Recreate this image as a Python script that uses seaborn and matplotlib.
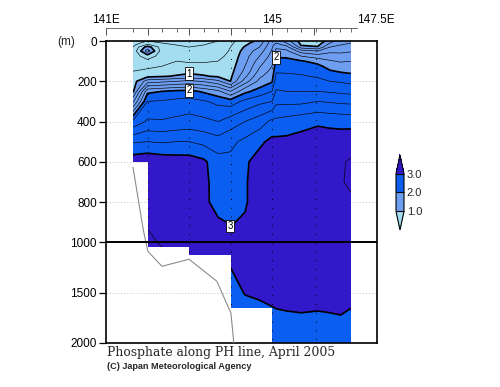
import numpy as np
import matplotlib
matplotlib.use("Agg")
import matplotlib.pyplot as plt
from matplotlib.patches import Polygon
import seaborn as sns

# ---------------- data ----------------
stations = [141.65, 142.0, 142.35, 142.7, 143.0, 143.35, 143.7, 144.0, 144.35,
            144.7, 145.0, 145.1, 145.35, 145.7, 146.1, 146.4, 146.65, 146.9]
depths = [0, 10, 20, 30, 50, 75, 100, 125, 150, 175, 200, 250, 300, 400, 500,
          600, 700, 800, 900, 1000, 1100, 1250, 1500, 1750, 2000]
# phosphate (umol/kg); one row per station, values at `depths`
phosphate = [
    [0.50, 0.50, 0.55, 0.60, 0.65, 0.70, 0.72, 0.75, 0.80, 0.85, 0.90, 0.96, 1.35, 2.25, 2.78, 3.12, 3.10, 3.10, 3.10, 3.10, 3.10, 3.10, 3.05, 3.00, 2.95],
    [0.60, 0.70, 0.85, 1.10, 1.30, 0.90, 0.75, 0.75, 0.85, 0.95, 1.30, 1.95, 2.20, 2.43, 2.80, 3.15, 3.14, 3.15, 3.18, 3.24, 3.26, 3.20, 3.10, 3.00, 2.95],
    [0.55, 0.60, 0.65, 0.70, 0.70, 0.72, 0.75, 0.80, 0.88, 0.98, 1.35, 2.00, 2.22, 2.42, 2.78, 3.12, 3.14, 3.16, 3.17, 3.18, 3.22, 3.15, 3.10, 3.00, 2.95],
    [0.50, 0.55, 0.60, 0.65, 0.70, 0.75, 0.80, 0.85, 0.92, 1.02, 1.40, 2.05, 2.25, 2.45, 2.80, 3.10, 3.12, 3.13, 3.14, 3.15, 3.15, 3.10, 3.05, 3.00, 2.95],
    [0.50, 0.52, 0.55, 0.60, 0.65, 0.72, 0.78, 0.85, 0.93, 1.08, 1.45, 2.06, 2.27, 2.48, 2.80, 3.10, 3.10, 3.12, 3.12, 3.13, 3.12, 3.10, 3.05, 3.00, 2.95],
    [0.55, 0.58, 0.60, 0.62, 0.66, 0.72, 0.78, 0.85, 0.93, 1.02, 1.38, 1.97, 2.22, 2.45, 2.75, 3.04, 3.06, 3.04, 3.08, 3.10, 3.10, 3.08, 3.05, 3.00, 2.95],
    [0.60, 0.62, 0.64, 0.66, 0.70, 0.75, 0.80, 0.85, 0.90, 0.97, 1.25, 1.85, 2.15, 2.40, 2.68, 2.88, 2.90, 2.94, 3.02, 3.06, 3.08, 3.05, 3.00, 2.95, 2.90],
    [0.75, 0.76, 0.78, 0.80, 0.82, 0.85, 0.88, 0.90, 0.93, 0.96, 1.00, 1.60, 2.10, 2.50, 2.75, 2.85, 2.90, 2.94, 2.99, 3.04, 3.05, 3.00, 2.92, 2.85, 2.80],
    [0.90, 0.95, 0.98, 1.02, 1.08, 1.12, 1.15, 1.20, 1.25, 1.35, 1.50, 1.95, 2.25, 2.60, 2.85, 2.97, 2.98, 2.98, 3.02, 3.06, 3.07, 3.06, 3.01, 2.90, 2.85],
    [1.05, 1.10, 1.15, 1.20, 1.30, 1.40, 1.50, 1.58, 1.66, 1.76, 1.86, 2.08, 2.35, 2.70, 2.96, 3.08, 3.10, 3.10, 3.10, 3.10, 3.10, 3.08, 3.03, 2.93, 2.88],
    [1.50, 1.52, 1.55, 1.58, 1.62, 1.68, 1.74, 1.80, 1.86, 1.92, 1.98, 2.20, 2.40, 2.85, 3.05, 3.08, 3.12, 3.12, 3.12, 3.12, 3.12, 3.10, 3.06, 2.95, 2.90],
    [1.55, 1.60, 1.68, 1.75, 1.88, 1.98, 2.06, 2.12, 2.18, 2.24, 2.30, 2.42, 2.55, 2.85, 3.05, 3.10, 3.12, 3.12, 3.12, 3.12, 3.12, 3.10, 3.07, 2.96, 2.91],
    [1.30, 1.40, 1.55, 1.68, 1.85, 1.97, 2.05, 2.12, 2.18, 2.23, 2.28, 2.40, 2.55, 2.88, 3.05, 3.12, 3.14, 3.14, 3.13, 3.12, 3.12, 3.11, 3.08, 2.97, 2.92],
    [0.90, 0.95, 0.98, 1.10, 1.50, 1.80, 2.02, 2.10, 2.16, 2.22, 2.28, 2.40, 2.55, 2.93, 3.07, 3.12, 3.14, 3.15, 3.14, 3.13, 3.12, 3.12, 3.08, 2.98, 2.93],
    [0.85, 0.90, 0.95, 1.02, 1.40, 1.70, 1.93, 2.05, 2.12, 2.18, 2.25, 2.40, 2.60, 2.97, 3.10, 3.14, 3.15, 3.15, 3.14, 3.14, 3.13, 3.12, 3.08, 2.97, 2.92],
    [1.10, 1.20, 1.30, 1.40, 1.55, 1.70, 1.82, 1.92, 2.02, 2.12, 2.20, 2.38, 2.58, 2.95, 3.10, 3.15, 3.17, 3.17, 3.15, 3.14, 3.13, 3.12, 3.08, 2.98, 2.93],
    [1.30, 1.35, 1.40, 1.45, 1.55, 1.68, 1.78, 1.88, 1.98, 2.08, 2.18, 2.36, 2.56, 2.94, 3.10, 3.18, 3.19, 3.17, 3.15, 3.14, 3.13, 3.12, 3.08, 2.99, 2.94],
    [1.35, 1.40, 1.45, 1.50, 1.58, 1.70, 1.80, 1.88, 1.96, 2.05, 2.15, 2.34, 2.55, 2.93, 3.12, 3.22, 3.22, 3.18, 3.15, 3.14, 3.13, 3.12, 3.05, 2.97, 2.93],
]
# sea floor steps (data columns end here)
bottom_edges = [141.65, 142.0, 143.0, 144.0, 145.0, 146.9]
bottom_depths = [600, 1050, 1125, 1650, 2000]
# bottom topography line
bathy_lon = [141.65, 141.9, 142.01, 142.35, 143.0, 143.67, 144.01, 144.08]
bathy_depth = [627, 940, 1090, 1238, 1168, 1386, 1703, 2000]

fill_levels = [1.0, 2.0, 3.0]
fill_colors = ['#a4dcf0', '#6e9ef0', '#0a5ff0', '#3218c8']
station_marks = [141.65, 142.0, 142.35, 142.7, 143.0, 143.35, 143.7, 144.0, 144.35,
                 144.7, 145.0, 145.35, 145.7, 146.05, 146.4, 146.65, 146.9]
top_major = [141.0, 142.0, 143.0, 144.0, 145.0, 146.0, 147.5]
top_labels = ['141E', '', '', '', '145', '', '147.5E']
grid_lons = [142.0, 143.0, 144.0, 145.0, 146.05]
depth_ticks = [0, 200, 400, 600, 800, 1000, 1500, 2000]
title = "Phosphate along PH line, April 2005"
credit = "(C) Japan Meteorological Agency"

# ---------------- style ----------------
sns.set_style("white")
plt.rcParams['font.family'] = ['Liberation Sans', 'DejaVu Sans']

fig = plt.figure(figsize=(5.0, 3.87), dpi=100)
ax = fig.add_axes([0.212, 0.1137, 0.542, 0.7803])


def fwd(d):
    d = np.asarray(d, dtype=float)
    return np.where(d <= 1000, d, 1000 + (d - 1000) * 0.5)


def inv(y):
    y = np.asarray(y, dtype=float)
    return np.where(y <= 1000, y, 1000 + (y - 1000) * 2.0)


ax.set_yscale('function', functions=(fwd, inv))
ax.set_xlim(141.0, 147.53)
ax.set_ylim(2000, 0)

X, Y = np.meshgrid(stations, depths)
Z = np.array(phosphate).T

cf = ax.contourf(X, Y, Z, levels=fill_levels, colors=fill_colors, extend='both', zorder=1)
thin_levels = [l for l in np.round(np.arange(0.2, 4.0, 0.2), 1) if l not in fill_levels]
cs_thin = ax.contour(X, Y, Z, levels=thin_levels, colors='k', linewidths=0.45, zorder=2)
cs_thick = ax.contour(X, Y, Z, levels=fill_levels, colors='k', linewidths=1.2, zorder=2)

# clip region from the sea-floor steps
verts = [(bottom_edges[0], 0), (bottom_edges[-1], 0)]
for i in range(len(bottom_depths) - 1, -1, -1):
    verts.append((bottom_edges[i + 1], bottom_depths[i]))
    verts.append((bottom_edges[i], bottom_depths[i]))
clip = Polygon(verts, closed=True, transform=ax.transData, facecolor='none', edgecolor='none')
for art in (cf, cs_thin, cs_thick):
    art.set_clip_path(clip)

vl = ax.vlines(grid_lons, 0, 2000, colors='k', linestyles=(0, (1, 8)), linewidths=0.7, zorder=3)
vl.set_clip_path(clip)

sns.lineplot(x=bathy_lon, y=bathy_depth, sort=False, color='#8c8c8c', linewidth=0.8, ax=ax, zorder=3)
ax.set_xlabel('')
ax.set_ylabel('')
ax.set_xlim(141.0, 147.53)
ax.set_ylim(2000, 0)

ax.axhline(1000, color='k', lw=1.4, zorder=4)

labels = ax.clabel(cs_thick, fmt='%d', fontsize=7, inline=False,
                   manual=[(143.0, 165), (143.0, 240), (145.05, 70), (144.0, 915)])
for t in labels:
    t.set_rotation(0)
    t.set_bbox(dict(boxstyle='square,pad=0.12', fc='white', ec='black', lw=0.6))

ax.set_yticks(depth_ticks)
ax.set_yticklabels([str(d) for d in depth_ticks])
ax.yaxis.set_minor_locator(matplotlib.ticker.NullLocator())
ax.set_xticks([])
ax.yaxis.grid(True, color='#c4c4c4', linestyle=(0, (1, 2)), linewidth=0.7)
ax.xaxis.grid(False)
ax.set_axisbelow(True)
ax.tick_params(axis='y', direction='out', length=5, width=0.9, labelsize=8.5, pad=1.5,
               left=True, colors='k')
for s in ax.spines.values():
    s.set_color('k')
    s.set_linewidth(1.2)

# top longitude axis
axt = fig.add_axes([0.212, 0.9266, 0.542, 0.001])
axt.set_xlim(141.0, 147.53)
axt.patch.set_visible(False)
for k, s in axt.spines.items():
    s.set_visible(k == 'top')
axt.spines['top'].set_bounds(141.0, 147.05)
axt.spines['top'].set_linewidth(0.6)
axt.spines['top'].set_color('#555555')
axt.set_yticks([])
axt.xaxis.set_ticks_position('top')
axt.set_xticks(top_major)
axt.set_xticklabels(top_labels)
axt.set_xticks(station_marks, minor=True)
axt.tick_params(axis='x', which='major', direction='in', length=5, width=0.6,
                labelsize=8.5, pad=1.5, colors='#333333', labelcolor='k')
axt.tick_params(axis='x', which='minor', direction='in', length=3, width=0.6, colors='#555555')
axt.xaxis.get_major_ticks()[-1].tick2line.set_visible(False)

fig.text(0.132, 0.891, '(m)', ha='center', va='center', fontsize=8.5)

# colorbar (axes covers the whole bar including the triangles)
cax = fig.add_axes([0.792, 0.4057, 0.016, 0.1938])
cb = fig.colorbar(cf, cax=cax, extendfrac=0.49, ticks=fill_levels, format='%.1f', drawedges=True)
cb.outline.set_linewidth(0.8)
cb.outline.set_edgecolor('k')
cb.dividers.set_linewidth(0.8)
cb.dividers.set_color('k')
cax.tick_params(length=0, labelsize=8, pad=2)

fig.text(0.214, 0.089, title, family=['DejaVu Serif'], fontsize=8.9, va='center', ha='left')
fig.text(0.214, 0.053, credit, family=['Liberation Sans', 'DejaVu Sans'], fontweight='bold',
         fontsize=6.6, va='center', ha='left')

fig.savefig('out.png', dpi=100)
